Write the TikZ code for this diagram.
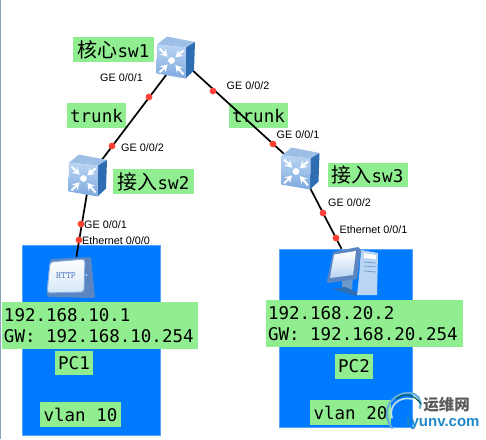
\documentclass[tikz,border=0pt]{standalone}
\usepackage{fontspec}
\setmainfont{Liberation Sans}
\newfontfamily\monofam{DejaVu Sans Mono}
\newfontfamily\cjk{Noto Sans CJK SC}
\usetikzlibrary{arrows.meta,positioning,calc}
\definecolor{vlanblue}{HTML}{007BFF}
\definecolor{vlanedge}{HTML}{55A5FF}
\definecolor{taggreen}{HTML}{90EE90}
\definecolor{portred}{HTML}{FF4238}
\definecolor{swlight}{HTML}{BAD5F3}
\definecolor{swmid}{HTML}{7FA9DF}
\definecolor{swside}{HTML}{2F6DB2}
\definecolor{swtop}{HTML}{9DBFE6}
\definecolor{iconedge}{HTML}{5C86C2}
\definecolor{markblue}{HTML}{1E88C8}
\definecolor{edgegrey}{HTML}{8BA3B5}
\newcommand{\cn}[1]{{\cjk\fontsize{20}{22}\selectfont #1}}
\tikzset{vlanbox/.style={draw=vlanedge,fill=vlanblue},tag/.style={fill=taggreen,inner sep=0pt,minimum height=24.5pt,align=flush left,font=\monofam\frenchspacing\fontsize{17.5}{21.5}\selectfont},port/.style={inner sep=0pt,font=\fontsize{10.8}{12}\selectfont},dot/.style={circle,fill=portred,inner sep=0pt,minimum size=6.8pt},swnode/.style={inner sep=0pt,minimum size=28pt},hostnode/.style={inner sep=0pt,minimum width=44pt},link/.style={draw=black,line width=1.7pt}}
\newcommand{\swicon}[1]{\begin{scope}[shift={(#1)}]
\fill[swtop] (-18.5,-13)--(-8.5,-21)--(19.5,-15.5)--(10.5,-10)--cycle;\fill[swside] (10.5,-10)--(19.5,-15.5)--(18.5,13)--(10,21)--cycle;
\shade[top color=swlight,bottom color=swmid] (-18.5,-13)--(10.5,-10)--(10,21)--(-19,16)--cycle;
\fill[white] (-4,3) circle (3.4pt);\foreach \a/\b in {-16/-9,8/-7,-16/15,8/17}\draw[white,line width=2pt,-{Stealth[length=7pt,width=8pt]}] (\a,\b)--($(\a,\b)!.68!(-4,3)$);
\end{scope}}
\begin{document}
\begin{tikzpicture}[x=1pt,y=-1pt]
\useasboundingbox (0,0) rectangle (486,439);
\fill[edgegrey] (0,0) rectangle (1,439);
\node[vlanbox,minimum width=138pt,minimum height=190pt,inner sep=0pt] (vlan10box) at (91,340) {};\node[vlanbox,minimum width=133pt,minimum height=178pt,inner sep=0pt] (vlan20box) at (345.5,338) {};
\node[tag,minimum width=81pt] (core) at (113.5,49.5) {\cn{核心}sw1};\node[tag,minimum width=59pt] (trunk1) at (96.5,115.5) {trunk};\node[tag,minimum width=59pt] (trunk2) at (258.5,115.5) {trunk};\node[tag,minimum width=81pt] (acc2) at (153.5,181.5) {\cn{接入}sw2};\node[tag,minimum width=80pt] (acc3) at (367.5,175) {\cn{接入}sw3};
\node[tag,minimum width=196pt,minimum height=47pt,text width=192pt] (ip1) at (100,325.5) {192.168.10.1\\GW: 192.168.10.254};\node[tag,minimum width=197pt,minimum height=47pt,text width=193pt] (ip2) at (364.5,323.5) {192.168.20.2\\GW: 192.168.20.254};
\node[tag,minimum width=38pt] (pc1) at (74,363) {PC1};\node[tag,minimum width=38pt] (pc2) at (354,366.5) {PC2};\node[tag,minimum width=81pt] (vlan10) at (80.5,414.5) {vlan 10};\node[tag,minimum width=81pt] (vlan20) at (350.5,412.5) {vlan 20};
\node[swnode] (sw1) at (179,58) {};\node[swnode] (sw2) at (90,175.5) {};\node[swnode] (sw3) at (300,168.5) {};
\node[hostnode,minimum height=40pt] (http) at (73,277) {};\node[hostnode,minimum height=44pt] (host) at (353,271) {};
\draw[link] (sw1)--(sw2);\draw[link] (sw1)--(sw3);\draw[link] (sw2)--(http);\draw[link] (sw3)--(host);
\swicon{175.5,57.5}\swicon{87.5,175.5}\swicon{300,168.5}
\fill[iconedge,rounded corners=2pt] (50,259)--(91,257)--(95,298)--(47,297)--cycle;\shade[top color=white,bottom color=swlight!60,draw=swmid,line width=1pt,rounded corners=3pt] (50,262)--(85,259)--(84,292)--(47,293)--cycle;\fill[swlight] (86.5,275) circle (1pt);\node[inner sep=0pt,text=iconedge,font=\ttfamily\bfseries\fontsize{9.5}{10}\selectfont] (httptext) at (66,275.5) {HTTP};
\fill[swside!70] (342,276)--(353,275)--(352,291)--(342,291)--cycle;\fill[swside] (332,289)--(345,287)--(360,293)--(356,296)--cycle;\fill[swlight] (361,250)--(378,253)--(377,295)--(357,295)--(359,277)--cycle;\fill[white] (364,253)--(376,255)--(376,259)--(364,258)--cycle;\draw[swside!70,line width=.7pt] (364,262)--(376,263) (364,266)--(376,267) (364,271)--(376,272);\fill[iconedge] (333,252)--(358,247)--(361,250)--(357,279)--(328,283)--(327,281)--cycle;\shade[top color=white,bottom color=swlight] (334,254.5)--(356,251)--(353,275)--(330,278)--cycle;
\node[dot] (d1) at (149,97) {};\node[dot] (d2) at (112,146) {};\node[dot] (d3) at (213,91) {};\node[dot] (d4) at (273,144) {};\node[dot] (d5) at (81,224) {};\node[dot] (d6) at (79,240) {};\node[dot] (d7) at (323,213) {};\node[dot] (d8) at (336,238) {};
\node[port] (p1) at (121.5,78) {GE 0/0/1};\node[port] (p2) at (142.5,148) {GE 0/0/2};\node[port] (p3) at (248,86) {GE 0/0/2};\node[port] (p4) at (298,135) {GE 0/0/1};\node[port] (p5) at (105.5,225) {GE 0/0/1};\node[port] (p6) at (116,241) {Ethernet 0/0/0};\node[port] (p7) at (349.5,203) {GE 0/0/2};\node[port] (p8) at (373.5,230) {Ethernet 0/0/1};
\draw[markblue!70!white,line width=2.2pt,line cap=round] (392,428) .. controls (378,408) and (395,392) .. (410,393) .. controls (418,394) and (422,400) .. (420,408);\draw[white!75!markblue,line width=1.6pt,line cap=round] (392,418) .. controls (388,405) and (400,396) .. (412,399);\draw[teal!70!black,line width=1.2pt,line cap=round] (396,399) .. controls (404,392) and (414,394) .. (421,404);
\node[inner sep=0pt,text=black!65,font=\cjk\bfseries\fontsize{15.5}{17}\selectfont] (marktop) at (446.5,405) {运维网};\node[inner sep=0pt,text=markblue,font=\bfseries\fontsize{15}{17}\selectfont] (markbot) at (443,423) {iyunv.com};
\end{tikzpicture}
\end{document}
